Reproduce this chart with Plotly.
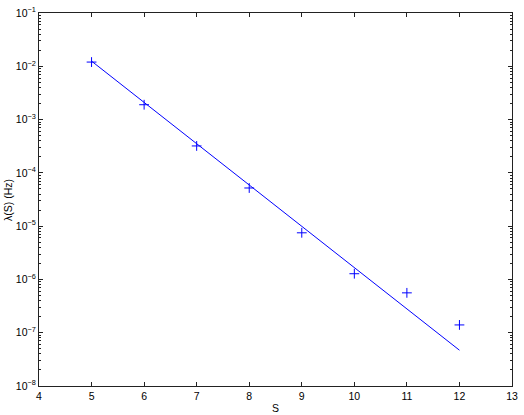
import plotly.graph_objects as go

# measured rates per S
s_vals = [5, 6, 7, 8, 9, 10, 11, 12]
rate_vals = [1.2e-2, 1.9e-3, 3.2e-4, 5.2e-5, 7.5e-6, 1.28e-6, 5.6e-7, 1.4e-7]

# fitted line (end points)
fit_s = [5, 12]
fit_rate = [1.25e-2, 4.7e-8]

y_decades = [-8, -7, -6, -5, -4, -3, -2, -1]
y_ticktext = [f"10<sup>\u2212{-d}</sup>" for d in y_decades]
x_ticks = list(range(4, 14))

minor_vals = [m * 10.0 ** d for d in y_decades[:-1] for m in range(2, 10)]

blue = "#0000ff"
font = dict(family="Liberation Sans, Arial, sans-serif", size=10.5, color="black")

fig = go.Figure()
fig.add_trace(
    go.Scatter(
        x=fit_s,
        y=fit_rate,
        mode="lines",
        line=dict(color=blue, width=1),
        showlegend=False,
    )
)
fig.add_trace(
    go.Scatter(
        x=s_vals,
        y=rate_vals,
        mode="markers",
        marker=dict(symbol="cross-thin", size=7, color=blue,
                    line=dict(color=blue, width=1)),
        showlegend=False,
    )
)

axis_common = dict(
    showgrid=False,
    zeroline=False,
    showline=True,
    linecolor="#222222",
    linewidth=1,
    mirror="allticks",
    ticks="inside",
    ticklen=4,
    tickcolor="#222222",
    tickfont=font,
    automargin=False,
)

fig.update_xaxes(
    range=[4, 13],
    tickvals=x_ticks,
    **axis_common,
)
fig.update_yaxes(
    type="log",
    range=[-8, -1],
    tickvals=[10.0 ** d for d in y_decades],
    ticktext=y_ticktext,
    minor=dict(tickvals=minor_vals, ticks="inside", ticklen=2, tickcolor="#222222"),
    **axis_common,
)

# axis titles placed by hand, as in the original figure
fig.add_annotation(
    text="S", xref="paper", yref="paper", x=0.5, y=-0.059,
    xanchor="center", yanchor="middle", showarrow=False, font=font,
)
fig.add_annotation(
    text="\u03bb(S) (Hz)", xref="paper", yref="paper", x=-0.0666, y=0.5,
    xanchor="center", yanchor="middle", textangle=-90, showarrow=False, font=font,
)

fig.update_layout(
    width=524,
    height=415,
    margin=dict(l=39, r=12, t=13, b=29),
    paper_bgcolor="white",
    plot_bgcolor="white",
    font=font,
)

fig.write_html(
    "out.html",
    config={"displayModeBar": False},
    post_script="document.body.style.margin='0';",
)
